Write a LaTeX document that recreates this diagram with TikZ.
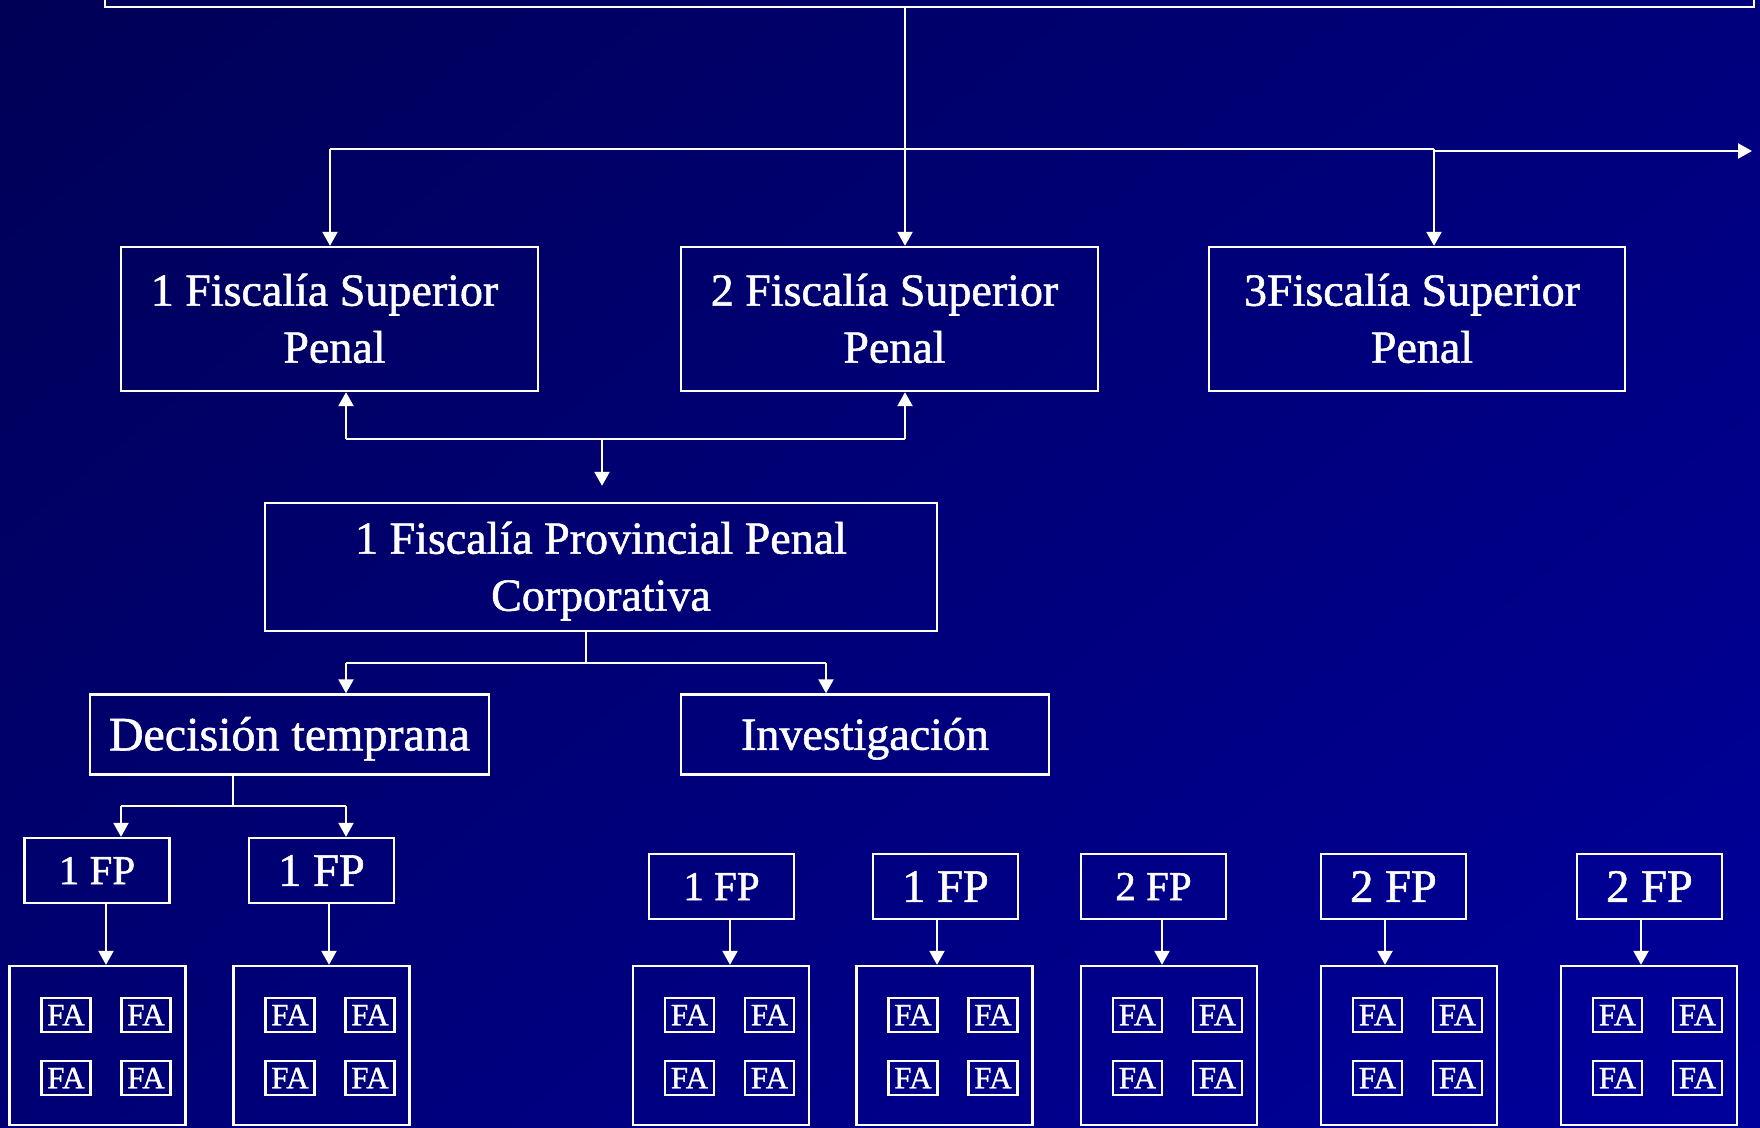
\documentclass[tikz,border=0pt]{standalone}
\usepackage{fontspec}
\setmainfont{Liberation Serif}[FakeBold=1.2]
\usetikzlibrary{arrows.meta,shadings}
\definecolor{bgUL}{RGB}{0,0,86}
\definecolor{bgUR}{RGB}{0,0,124}
\definecolor{bgLL}{RGB}{0,0,116}
\definecolor{bgLR}{RGB}{0,0,156}
\newcommand{\twoln}[2]{\begin{tabular}[b]{@{}c@{}}#1\\#2\end{tabular}}
\begin{document}
\begin{tikzpicture}[x=1pt,y=-1pt,
  box/.style={draw=white,line width=2.4pt,text=white,inner sep=0pt,align=center},
  twol/.style={font=\fontsize{46}{57}\selectfont,text height=87.4pt,text depth=0pt},
  onel/.style={font=\fontsize{#1}{#1}\selectfont,text depth=0pt},
  fa/.style={box,line width=2.2pt,minimum width=49pt,minimum height=34pt,
    font=\fontsize{31}{31}\selectfont,text height=20.5pt,text depth=0pt},
  cont/.style={box,minimum width=176pt,minimum height=159pt},
  conn/.style={draw=white,line width=2.4pt},
  arr/.style={conn,-{Triangle[length=14pt,width=15pt]}},
]
\useasboundingbox (0,0) rectangle (1760,1127);
\clip (0,0) rectangle (1760,1127);
\shade[upper left=bgUL,upper right=bgUR,lower left=bgLL,lower right=bgLR]
  (0,0) rectangle (1760,1127);

% top box (cut off)
\node[box,minimum width=1649pt,minimum height=80pt] (top) at (929.5,-33) {};

% level 1
\node[box,twol,minimum width=417pt,minimum height=144pt] (b1) at (329.5,319)
  {\twoln{1 Fiscalía Superior\hspace*{10pt}}{\hspace*{10pt}Penal}};
\node[box,twol,minimum width=417pt,minimum height=144pt] (b2) at (889.5,319)
  {\twoln{2 Fiscalía Superior\hspace*{10pt}}{\hspace*{10pt}Penal}};
\node[box,twol,minimum width=416pt,minimum height=144pt] (b3) at (1417,319)
  {\twoln{3Fiscalía Superior\hspace*{10pt}}{\hspace*{10pt}Penal}};

% level 2
\node[box,twol,minimum width=672pt,minimum height=128pt] (b4) at (601,567)
  {\twoln{1 Fiscalía Provincial Penal}{Corporativa}};

% level 3
\node[box,onel=48,text height=31.8pt,minimum width=399pt,minimum height=80pt] (dec) at (289.5,734.5) {Decisión temprana};
\node[box,onel=46,text height=30.5pt,minimum width=368pt,minimum height=80pt] (inv) at (865,734.5) {Investigación};

% connectors top
\coordinate (j) at (905,149);
\coordinate (hL) at (330,149);
\coordinate (hR) at (1434,149);
\coordinate (hR2) at (1434,151);
\coordinate (hE) at (1752,151);
\draw[arr] (top.south -| j) -- (b2.north -| j);
\draw[conn] (hL) -- (hR);
\draw[arr] (hR2) -- (hE);
\draw[arr] (hL) -- (b1.north -| hL);
\draw[arr] (hR) -- (b3.north -| hR);

% connectors level 2
\coordinate (mL) at (346,439);
\coordinate (mR) at (905,439);
\coordinate (mC) at (602,439);
\draw[arr] (mL) -- (b1.south -| mL);
\draw[arr] (mR) -- (b2.south -| mR);
\draw[conn] (mL) -- (mR);
\draw[arr,shorten >=16pt] (mC) -- (b4.north -| mC);

% connectors level 3
\coordinate (nJ) at (586,663);
\coordinate (nL) at (346,663);
\coordinate (nR) at (826,663);
\draw[conn] (b4.south -| nJ) -- (nJ);
\draw[conn] (nL) -- (nR);
\draw[arr] (nL) -- (dec.north -| nL);
\draw[arr] (nR) -- (inv.north -| nR);

% connectors level 4
\coordinate (oJ) at (233,806);
\coordinate (oL) at (121,806);
\coordinate (oR) at (346,806);

% FP boxes, containers, FA boxes
\foreach \n/\cx/\fx/\fy/\ax/\tx/\fs/\hh in {
   1/97.5/97/870.5/106/1 FP/41/27.1,
   2/321.5/321.5/870.5/329/1 FP/46.5/30.8,
   3/721/721.5/886.5/730/1 FP/41/27.1,
   4/944.5/945.5/886.5/937/1 FP/46.5/30.8,
   5/1169/1153.5/886.5/1162/2 FP/41/27.1,
   6/1409/1393.5/886.5/1385/2 FP/46.5/30.8,
   7/1649/1649.5/886.5/1641/2 FP/46.5/30.8}{
  \node[cont] (c\n) at (\cx,1045.5) {};
  \node[box,font=\fontsize{\fs}{\fs}\selectfont,text height=\hh pt,text depth=0pt,
        minimum width=145pt,minimum height=65pt] (fp\n) at (\fx,\fy) {\tx};
  \coordinate (ax\n) at (\ax,0);
  \draw[arr] (fp\n.south -| ax\n) -- (c\n.north -| ax\n);
  \node[fa] (fa\n-1) at (\cx-31.5,1015) {FA};
  \node[fa] (fa\n-2) at (\cx+48.5,1015) {FA};
  \node[fa] (fa\n-3) at (\cx-31.5,1078) {FA};
  \node[fa] (fa\n-4) at (\cx+48.5,1078) {FA};
}

\draw[conn] (dec.south -| oJ) -- (oJ);
\draw[conn] (oL) -- (oR);
\draw[arr] (oL) -- (fp1.north -| oL);
\draw[arr] (oR) -- (fp2.north -| oR);
\end{tikzpicture}
\end{document}
